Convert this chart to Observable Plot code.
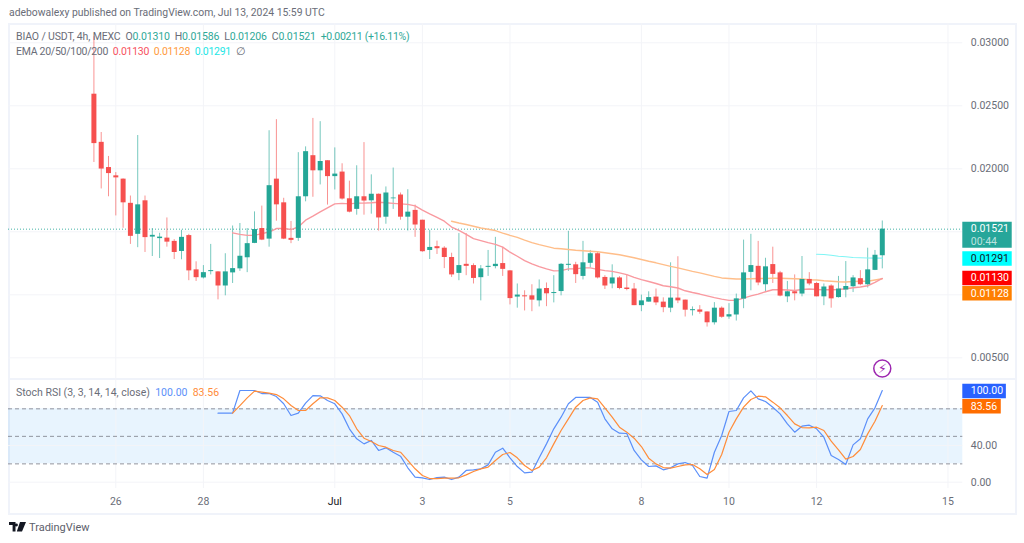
<!DOCTYPE html>
<html><head><meta charset="utf-8">
<script src="https://cdn.jsdelivr.net/npm/d3@7"></script>
<script src="https://cdn.jsdelivr.net/npm/@observablehq/plot@0.6"></script>
<style>
html,body{margin:0;background:#fff;font-family:Roboto,sans-serif}
#page{position:relative;width:1024px;height:543px;overflow:hidden;background:#fff}
#frame{position:absolute;left:8px;top:23px;width:1005px;height:488px;border:2px solid #f0f3fa}
#sep{position:absolute;left:8px;top:378px;width:1007px;height:2px;background:#f0f3fa}
.pane{position:absolute;left:0}
.pane svg{background:transparent;overflow:visible;display:block}
.t{position:absolute;white-space:pre;font-size:10.5px;line-height:12px;color:#6a6d78}
</style></head><body>
<div id="page">
<div id="frame"></div>
<div id="sep"></div>
<div id="top" class="pane" style="top:23px"></div>
<div id="bot" class="pane" style="top:379px"></div>
<div class="t" style="left:9px;top:7px;font-size:10.4px">adebowalexy published on TradingView.com, Jul 13, 2024 15:59 UTC</div>
<div class="t" style="left:16px;top:31px;letter-spacing:-0.14px">BIAO / USDT, 4h, MEXC  O<span style="color:#2fa998">0.01310</span>  H<span style="color:#2fa998">0.01586</span>  L<span style="color:#2fa998">0.01206</span>  C<span style="color:#2fa998">0.01521</span>  <span style="color:#2fa998;letter-spacing:-0.3px">+0.00211 (+16.11%)</span></div>
<div class="t" style="left:16px;top:45.5px;letter-spacing:-0.27px">EMA 20/50/100/200  <span style="color:#f7525f">0.01130</span>  <span style="color:#ff9a3c">0.01128</span>  <span style="color:#22e6e6">0.01291</span>  ∅</div>
<div class="t" style="left:16px;top:387px">Stoch RSI (3, 3, 14, 14, close)  <span style="color:#5b8ff9">100.00</span>  <span style="color:#ff8c3a">83.56</span></div>
<svg style="position:absolute;left:9px;top:522px" width="17" height="11" viewBox="0 0 17 11"><path d="M0 0h6.5v9.5H3.6V3H0zM11 0h6l-4 9.5H7.8z M7.5 1.6a1.4 1.4 0 1 1 0 2.8a1.4 1.4 0 0 1 0-2.8z" fill="#131722"/></svg>
<div class="t" style="left:29px;top:522px;font-size:11px;color:#5d606b">TradingView</div>
</div>
<script>
// Prices x 100000; first candle is index -3, the chart's "26" tick is index 0; one candle = 4h
const firstIndex = -3;
const opens = [2592,2210,2010,1944,1918,1726,1480,1746,1458,1446,1450,1424,1344,1470,1198,1134,1184,1182,1070,1174,1206,1294,1408,1526,1442,1918,1730,1448,1448,1778,2104,1984,2064,1938,1974,1762,1678,1778,1746,1798,1616,1762,1792,1616,1670,1592,1352,1382,1370,1296,1170,1242,1232,1136,1218,1224,1248,1190,982,992,992,952,1050,1010,1026,1234,1238,1146,1250,1326,1138,1086,1134,1054,1046,914,942,982,942,894,974,958,874,880,864,778,894,824,840,966,1178,1226,1080,1240,1174,984,1024,1006,1122,1090,984,1070,978,1038,1064,1128,1080,1194,1310];
const closes = [2200,1998,1962,1928,1730,1464,1714,1454,1472,1458,1418,1336,1456,1190,1136,1176,1192,1070,1182,1208,1306,1406,1518,1434,1866,1714,1442,1432,1778,2136,1984,2058,1938,1958,1760,1656,1778,1744,1798,1610,1808,1768,1616,1656,1554,1342,1376,1366,1296,1158,1232,1226,1130,1206,1226,1242,1202,970,998,984,958,1046,1008,1018,1242,1242,1160,1254,1326,1134,1070,1134,1050,1042,914,952,978,936,898,974,952,878,882,862,778,894,822,842,968,1174,1232,1094,1222,1162,990,1024,1008,1122,1086,984,1062,968,1046,1066,1134,1080,1198,1314,1521];
const highs = [3048,2288,2098,1970,1920,1784,2264,1784,1526,1488,1610,1438,1512,1480,1262,1232,1400,1184,1326,1546,1566,1526,1658,1704,2302,2390,1766,1582,2128,2174,2400,2374,2064,2166,2040,1902,2024,2208,1952,1800,1856,2006,1808,1834,1712,1592,1512,1426,1382,1330,1486,1486,1246,1232,1352,1456,1378,1192,1086,1032,1080,1118,1094,1152,1248,1504,1258,1424,1352,1338,1152,1238,1144,1160,1090,998,1024,1046,976,1254,1302,958,904,914,864,938,904,930,1006,1434,1480,1424,1290,1378,1186,1106,1158,1304,1176,1098,1086,1080,1146,1264,1152,1192,1370,1352,1586];
const lows = [2050,1840,1778,1626,1528,1400,1374,1336,1304,1288,1378,1280,1278,1112,1106,1126,1158,960,992,1090,1186,1176,1406,1430,1378,1584,1438,1406,1424,1738,1774,1872,1712,1832,1752,1650,1632,1632,1640,1506,1560,1678,1592,1506,1456,1338,1280,1320,1208,1138,1112,1152,1086,952,1146,1206,1146,920,894,872,866,904,906,936,992,1186,1090,1118,1214,1126,1042,1048,1040,1032,914,866,942,914,858,858,930,824,832,846,744,760,814,806,792,890,1032,1072,1018,1090,984,938,952,984,1072,984,914,894,974,976,1018,1072,1054,1192,1206];

const ema20Start = 16;
const ema20 = [1492,1480,1472,1472,1486,1498,1526,1526,1518,1538,1592,1624,1658,1690,1722,1726,1722,1728,1728,1730,1734,1730,1726,1722,1718,1706,1672,1642,1614,1584,1538,1512,1480,1446,1430,1414,1400,1378,1338,1306,1272,1246,1224,1206,1190,1192,1206,1206,1214,1214,1202,1192,1186,1174,1160,1138,1120,1106,1090,1072,1064,1054,1032,1018,1006,992,978,966,956,956,974,992,1006,1024,1040,1040,1038,1034,1042,1046,1042,1040,1040,1042,1048,1056,1062,1072,1098,1130];
const ema50Start = 46;
const ema50 = [1584,1570,1558,1544,1530,1520,1510,1490,1472,1456,1434,1414,1398,1384,1370,1366,1360,1354,1350,1346,1342,1334,1326,1318,1306,1294,1280,1266,1254,1240,1226,1214,1200,1186,1174,1160,1146,1134,1130,1126,1126,1128,1130,1130,1132,1132,1130,1128,1126,1120,1118,1112,1108,1104,1102,1106,1108,1108,1118,1128];
const ema100Start = 96;
const ema100 = [1322,1320,1314,1306,1302,1296,1294,1292,1291,1291];

const stochKStart = 14;
const stochK = [75.3,75.3,75.3,100,100,100,96.7,96.7,93.4,85.5,72.7,75.3,86.2,94.5,94.2,89.1,85.5,74.5,58.2,47.3,41.8,45.5,34.6,37.5,32.7,28.4,15.7,5.5,4.8,2.9,5.1,5.5,2.9,5.5,12.8,13.5,14.6,18.9,32.7,37.1,26.6,17.1,10.2,10.9,26.6,41.8,58.2,70.9,85.5,92.4,92.4,92.4,87.3,69.1,58.2,53.5,53.1,34.6,24.4,17.1,17.8,13.5,15.7,20,21.5,18.2,6.2,4.4,32.7,50.9,77.1,78.2,92,99.6,90.9,88,81.8,74.5,63.6,54.5,61.1,62.2,58.2,49.1,29.1,24.7,19.3,40.7,47.3,69.1,81.1,100];
const stochDStart = 16;
const stochD = [75.3,83.6,92,99.3,98.2,97.1,95.6,90.9,83.6,78.2,78.2,85.5,92,92,89.1,81.8,72.7,58.2,48,44.4,40,38.2,34.6,32.7,23.7,14.6,7.3,4,4,4.4,4.4,4.8,8,11.7,14.6,16.4,23.7,30.2,32.4,26.6,18.2,12.8,16.4,26.6,41.8,56.4,69.1,81.8,89.1,92,90.9,81.1,70.9,60,54.6,48,38.9,26.2,20,16,15.3,17.1,18.9,19.3,14.6,8.4,13.8,30.2,54.5,69.1,81.8,90.2,93.8,93.1,87.3,81.1,72.7,63.6,59.6,59.3,60,56.4,44.7,35.3,25.1,28,35.6,52.7,66.5,83.56];

const dayTicks = [0,12,30,42,54,72,84,96,114];
const dayLabels = ["26","28","Jul","3","5","8","10","12","15"];
const priceTicks = [0.005,0.01,0.015,0.02,0.025,0.03];
const priceTickLabels = [0.005,0.02,0.025,0.03];
const stochTicks = [0,40];
const stochLevels = [20,50,80];

const priceBoxes = [
 {value:0.01521,label:"0.01521",color:"#26a69a",text:"#fff",shift:5.7,thick:26,end:122.8,textShift:-0.6},
 {value:0.01291,label:"0.01291",color:"#00ffff",text:"#131722",shift:0.3,thick:14.4,end:122.8,textShift:0.3},
 {value:0.0113,label:"0.01130",color:"#ff0000",text:"#fff",shift:-0.4,thick:14.4,end:122.8,textShift:-0.4},
 {value:0.01128,label:"0.01128",color:"#ff7f00",text:"#fff",shift:14.6,thick:14.4,end:122.8,textShift:14.6}
];
const countdown = [{value:0.01521,label:"00:44"}];
const stochBoxes = [
 {value:100,label:"100.00",color:"#2962ff",shift:0.5,end:122},
 {value:83.56,label:"83.56",color:"#ff6d00",shift:0.6,end:121.3}
];

const GREEN="#24a696", RED="#f6504f", GRID="#f3f4f8", AXIS="#6a6d78";
const FONT="Roboto, sans-serif";
const xDomain=[-14.7,116.03];
const candles = opens.map((o,k)=>({i:firstIndex+k,o:o/1e5,c:closes[k]/1e5,h:highs[k]/1e5,l:lows[k]/1e5}));
const up = candles.filter(d=>d.c>=d.o), down = candles.filter(d=>d.c<d.o);
const series = (arr,start,scale=1)=>arr.map((v,k)=>({i:start+k,v:v/scale}));
const wick = (data,color)=>Plot.ruleX(data,{x:"i",y1:"l",y2:"h",stroke:color,strokeWidth:1,strokeOpacity:0.62});
const body = (data,color)=>Plot.ruleX(data,{x:"i",y1:"o",y2:"c",stroke:color,strokeWidth:5,strokeLinecap:"butt"});

const topPlot = Plot.plot({
  width:1024,height:356,marginLeft:8,marginRight:61.7,marginTop:0,marginBottom:0,
  style:{fontFamily:FONT,background:"transparent"},
  x:{domain:xDomain,axis:null},
  y:{domain:[0.00328,0.03153],label:null},
  marks:[
    Plot.ruleX(dayTicks,{stroke:GRID}),
    Plot.ruleY(priceTicks,{stroke:GRID}),
    Plot.ruleY([0.01521],{stroke:GREEN,strokeDasharray:"1 2",strokeOpacity:0.85}),
    wick(up,GREEN),wick(down,RED),
    Plot.line(series(ema100,ema100Start,1e5),{x:"i",y:"v",stroke:"#7ff5f5",strokeWidth:1.2}),
    Plot.line(series(ema50,ema50Start,1e5),{x:"i",y:"v",stroke:"#ffbe8a",strokeWidth:1.4}),
    Plot.line(series(ema20,ema20Start,1e5),{x:"i",y:"v",stroke:"#f99aa0",strokeWidth:1.4}),
    body(up,GREEN),body(down,RED),
    Plot.axisY({anchor:"right",ticks:priceTickLabels,tickFormat:d=>d.toFixed(5),tickSize:0,tickPadding:8,label:null,fill:AXIS,fontSize:10.5}),
    ...priceBoxes.map(b=>Plot.ruleY([b],{y:"value",x1:xDomain[1],x2:"end",stroke:"color",strokeWidth:"thick",dy:b.shift})),
    ...priceBoxes.map(b=>Plot.text([b],{x:xDomain[1],y:"value",text:"label",fill:b.text,textAnchor:"start",dx:8,dy:b.textShift,fontSize:10.5})),
    Plot.text(countdown,{x:xDomain[1],y:"value",text:"label",fill:"#fff",fillOpacity:0.7,textAnchor:"start",dx:8,dy:12.4,fontSize:10.5}),
    Plot.dot([{i:105,v:0.00415}],{x:"i",y:"v",r:8.5,stroke:"#9c27b0",strokeWidth:1.5,fill:"#fff"}),
    Plot.text([{i:105,v:0.00415}],{x:"i",y:"v",text:()=>"⚡\uFE0E",fill:"#9c27b0",fontSize:13,fontFamily:"DejaVu Sans"})
  ]
});
document.getElementById("top").append(topPlot);

const botPlot = Plot.plot({
  width:1024,height:134,marginLeft:8,marginRight:61.7,marginTop:0,marginBottom:25,
  style:{fontFamily:FONT,background:"transparent"},
  x:{domain:xDomain,axis:null},
  y:{domain:[-6.87,112],label:null},
  marks:[
    Plot.rect([{}],{x1:xDomain[0],x2:xDomain[1],y1:20,y2:80,fill:"#2196f3",fillOpacity:0.1}),
    Plot.ruleX(dayTicks,{stroke:GRID}),
    Plot.ruleY(stochTicks,{stroke:GRID}),
    Plot.ruleY(stochLevels,{stroke:"#787b86",strokeDasharray:"4 3",strokeOpacity:0.8}),
    Plot.line(series(stochK,stochKStart),{x:"i",y:"v",stroke:"#5b8ff9",strokeWidth:1.2}),
    Plot.line(series(stochD,stochDStart),{x:"i",y:"v",stroke:"#ff8c3a",strokeWidth:1.2}),
    Plot.axisY({anchor:"right",ticks:stochTicks,tickFormat:d=>d.toFixed(2),tickSize:0,tickPadding:8,label:null,fill:AXIS,fontSize:10.5}),
    Plot.axisX({anchor:"bottom",ticks:dayTicks,tickFormat:d=>dayLabels[dayTicks.indexOf(d)],tickSize:0,tickPadding:9,label:null,fill:d=>d===30?"#131722":AXIS,fontWeight:d=>d===30?"bold":"normal",fontSize:10.5}),
    ...stochBoxes.map(b=>Plot.ruleY([b],{y:"value",x1:xDomain[1],x2:"end",stroke:"color",strokeWidth:14.4,dy:b.shift})),
    ...stochBoxes.map(b=>Plot.text([b],{x:xDomain[1],y:"value",text:"label",fill:"#fff",textAnchor:"start",dx:8,dy:b.shift,fontSize:10.5}))
  ]
});
document.getElementById("bot").append(botPlot);
</script>
</body></html>
